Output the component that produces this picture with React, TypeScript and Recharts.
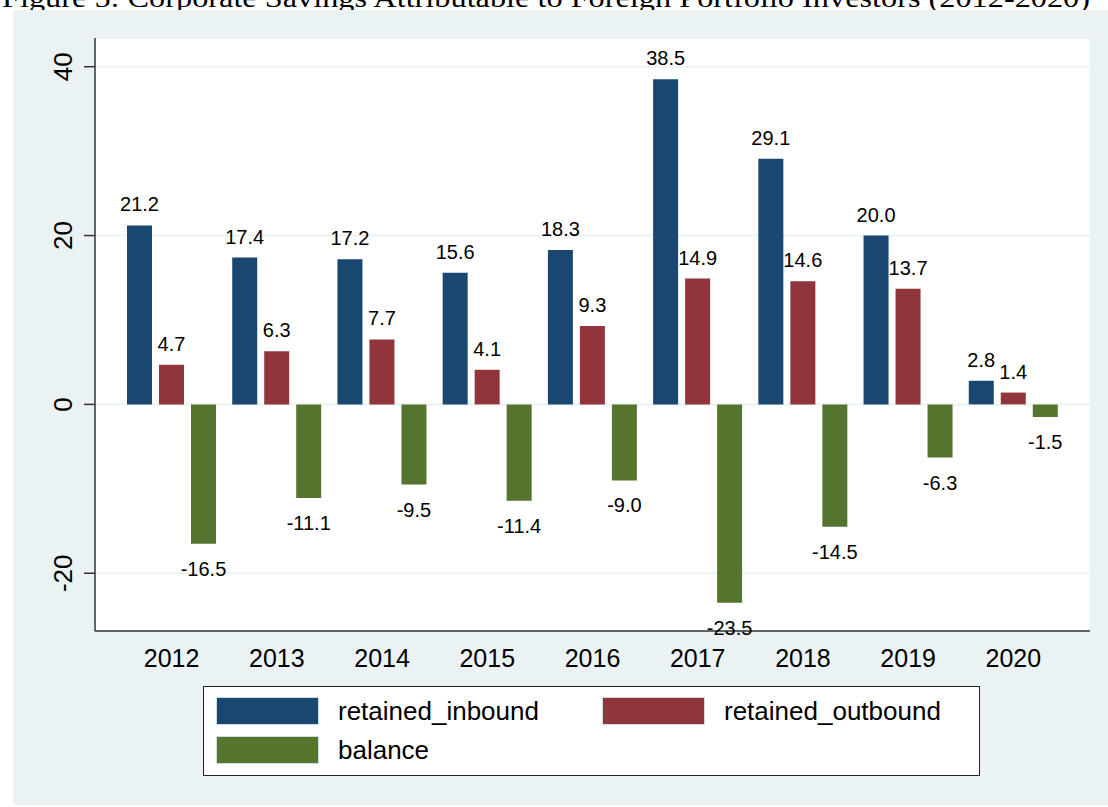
import * as React from "react"
import { BarChart, Bar, XAxis, YAxis, CartesianGrid, LabelList } from "recharts"

const years = ["2012", "2013", "2014", "2015", "2016", "2017", "2018", "2019", "2020"]
const retainedInbound = [21.2, 17.4, 17.2, 15.6, 18.3, 38.5, 29.1, 20.0, 2.8]
const retainedOutbound = [4.7, 6.3, 7.7, 4.1, 9.3, 14.9, 14.6, 13.7, 1.4]
const balance = [-16.5, -11.1, -9.5, -11.4, -9.0, -23.5, -14.5, -6.3, -1.5]
const yTicks = [-20, 0, 20, 40]

const series = [
  { key: "retained_inbound", color: "#1a476f" },
  { key: "retained_outbound", color: "#90353b" },
  { key: "balance", color: "#55752f" },
]

const data = years.map((year, i) => ({
  year,
  retained_inbound: retainedInbound[i],
  retained_outbound: retainedOutbound[i],
  balance: balance[i],
}))

const sans = "'Liberation Sans', Arial, Helvetica, sans-serif"
const panelBg = "#eaf2f3"

const YTick = (props: any) => {
  const { x, y, payload } = props
  const tx = x - 12
  return (
    <text
      x={tx}
      y={y}
      transform={`rotate(-90, ${tx}, ${y})`}
      textAnchor="middle"
      fontSize={26}
      fontFamily={sans}
      fill="#000"
    >
      {payload.value}
    </text>
  )
}

const XTick = (props: any) => {
  const { x, y, payload } = props
  return (
    <text x={x} y={y + 36} textAnchor="middle" fontSize={25} fontFamily={sans} fill="#000">
      {payload.value}
    </text>
  )
}

const ValueLabel = (props: any) => {
  const { x, y, width, height, value } = props
  const top = Math.min(y, y + height)
  const bottom = Math.max(y, y + height)
  const ty = value >= 0 ? top - 14 : bottom + 32
  return (
    <text x={x + width / 2} y={ty} textAnchor="middle" fontSize={20} fontFamily={sans} fill="#000">
      {Number(value).toFixed(1)}
    </text>
  )
}

const LegendBox = () => {
  const item = (s: { key: string; color: string }, left: number, top: number) => (
    <div key={s.key} style={{ position: "absolute", left, top, display: "flex", alignItems: "center" }}>
      <div style={{ width: 103, height: 28, background: s.color, border: "1px solid #d0dde0", boxSizing: "border-box" }} />
      <span
        style={{
          marginLeft: 19,
          fontFamily: sans,
          fontSize: 26,
          color: "#000",
          whiteSpace: "nowrap",
          lineHeight: "28px",
        }}
      >
        {s.key}
      </span>
    </div>
  )
  return (
    <div
      style={{
        position: "absolute",
        left: 190,
        top: 676,
        width: 777,
        height: 90,
        background: "#fff",
        border: "1.5px solid #222",
        boxSizing: "border-box",
      }}
    >
      {item(series[0], 12, 10)}
      {item(series[1], 398, 10)}
      {item(series[2], 12, 49)}
    </div>
  )
}

export default function App() {
  return (
    <div>
      <svg
        width={1108}
        height={20}
        style={{ position: "absolute", left: 0, top: 0 }}
      >
        <text
          x={2}
          y={7}
          fontSize={28}
          fontFamily="'Liberation Serif', 'Times New Roman', serif"
          fill="#000"
          textLength={1088}
          lengthAdjust="spacingAndGlyphs"
        >
          Figure 5: Corporate Savings Attributable to Foreign Portfolio Investors (2012-2020)
        </text>
      </svg>
      <div
        style={{
          position: "absolute",
          left: 13,
          top: 10,
          width: 1095,
          height: 795,
          background: panelBg,
        }}
      >
        <BarChart
          width={1095}
          height={795}
          data={data}
          margin={{ top: 28, right: 18, bottom: 134, left: 0 }}
          barSize={25}
          barGap={7}
          barCategoryGap={8}
        >
          <CartesianGrid vertical={false} fill="#fff" stroke={panelBg} strokeWidth={2} />
          <XAxis
            dataKey="year"
            height={40}
            padding={{ left: 24, right: 24 }}
            tickLine={false}
            tickSize={0}
            tickMargin={0}
            axisLine={{ stroke: "#333", strokeWidth: 1.5 }}
            tick={<XTick />}
            interval={0}
          />
          <YAxis
            width={82}
            domain={[-26.84, 43.4]}
            ticks={yTicks}
            allowDataOverflow
            tickSize={11}
            tickMargin={0}
            tickLine={{ stroke: "#333", strokeWidth: 1.5 }}
            axisLine={{ stroke: "#333", strokeWidth: 1.5 }}
            tick={<YTick />}
          />
          {series.map((s) => (
            <Bar key={s.key} dataKey={s.key} fill={s.color} isAnimationActive={false}>
              <LabelList dataKey={s.key} content={<ValueLabel />} />
            </Bar>
          ))}
        </BarChart>
        <LegendBox />
      </div>
    </div>
  )
}
